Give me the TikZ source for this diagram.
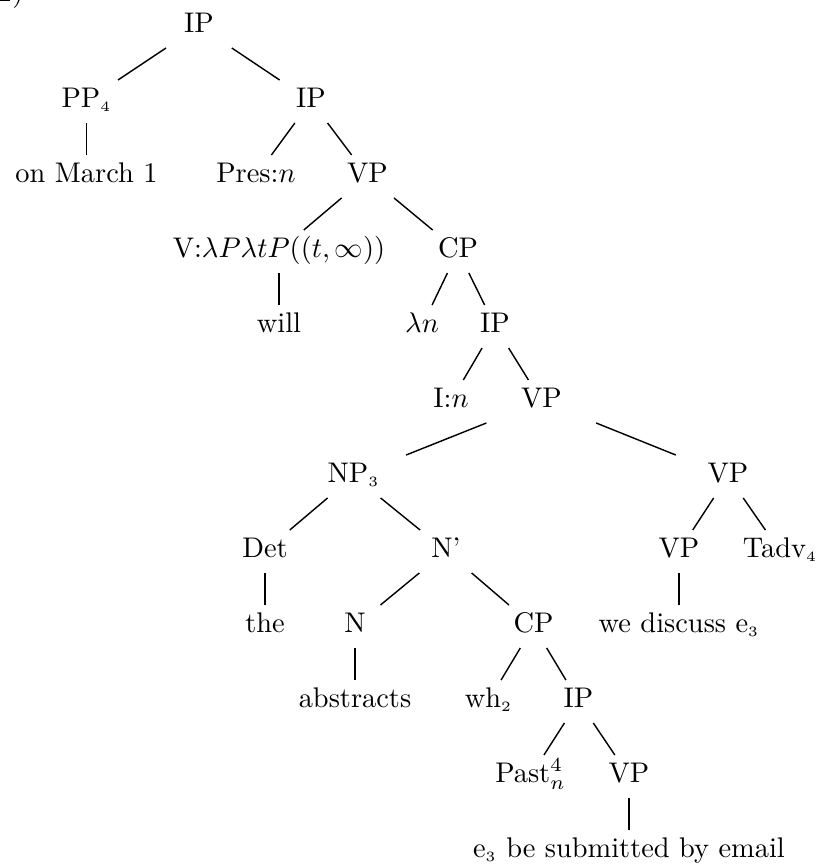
\documentclass[tikz,border=0pt]{standalone}
\usetikzlibrary{calc}
\newcommand\branch[2]{\draw[br] ($#1!0.293!#2+(0,-6)$) -- ($#1!0.72!#2+(0,-6)$);}
\newcommand\sub[1]{$_{\scriptscriptstyle #1}$}
\begin{document}
\begin{tikzpicture}[x=0.3521pt,y=-0.3521pt,
  lab/.style={anchor=base,inner sep=0pt},
  br/.style={line width=0.5pt}]
\useasboundingbox (0,0) rectangle (816,865);
\clip (0,0) rectangle (816,865);
\node[lab,anchor=base east] (num) at (24,1) {2)};
\node[lab] (IPa) at (199,32) {IP};
\node[lab] (PP) at (86.5,107) {PP\sub{4}};
\node[lab] (IPb) at (311,107) {IP};
\node[lab] (onm) at (86.5,182) {on March 1};
\node[lab] (Pres) at (256,182) {Pres:$n$};
\node[lab] (VPa) at (367.5,182) {VP};
\node[lab] (V) at (279,257) {V:$\lambda P\lambda tP((t,\infty))$};
\node[lab] (CPa) at (458,257) {CP};
\node[lab] (will) at (279,332) {will};
\node[lab] (lamn) at (422,332) {$\lambda n$};
\node[lab] (IPc) at (495,332) {IP};
\node[lab] (In) at (451,407) {I:$n$};
\node[lab] (VPb) at (541.5,407) {VP};
\node[lab] (NP) at (353.5,482) {NP\sub{3}};
\node[lab] (VPc) at (728,482) {VP};
\node[lab] (Det) at (265,557) {Det};
\node[lab] (Nbar) at (446,557) {N'};
\node[lab] (VPd) at (679,557) {VP};
\node[lab] (Tadv) at (780,557) {Tadv\sub{4}};
\node[lab] (the) at (265,632) {the};
\node[lab] (N) at (355,632) {N};
\node[lab] (CPb) at (533.5,632) {CP};
\node[lab] (wed) at (679,632) {we discuss e\sub{3}};
\node[lab] (abs) at (355,707) {abstracts};
\node[lab] (wh) at (488.5,707) {wh\sub{2}};
\node[lab] (IPd) at (578.5,707) {IP};
\node[lab] (Past) at (530.5,782) {Past$^4_n$};
\node[lab] (VPe) at (629,782) {VP};
\node[lab] (e3) at (629,857) {e\sub{3} be submitted by email};
\branch{(IPa.base)}{(PP.base)}
\branch{(IPa.base)}{(IPb.base)}
\branch{(PP.base)}{(onm.base)}
\branch{(IPb.base)}{(Pres.base)}
\branch{(IPb.base)}{(VPa.base)}
\branch{(VPa.base)}{(V.base)}
\branch{(VPa.base)}{(CPa.base)}
\branch{(V.base)}{(will.base)}
\branch{(CPa.base)}{(lamn.base)}
\branch{(CPa.base)}{(IPc.base)}
\branch{(IPc.base)}{(In.base)}
\branch{(IPc.base)}{(VPb.base)}
\branch{(VPb.base)}{(NP.base)}
\branch{(VPb.base)}{(VPc.base)}
\branch{(NP.base)}{(Det.base)}
\branch{(NP.base)}{(Nbar.base)}
\branch{(VPc.base)}{(VPd.base)}
\branch{(VPc.base)}{(Tadv.base)}
\branch{(Det.base)}{(the.base)}
\branch{(Nbar.base)}{(N.base)}
\branch{(Nbar.base)}{(CPb.base)}
\branch{(VPd.base)}{(wed.base)}
\branch{(N.base)}{(abs.base)}
\branch{(CPb.base)}{(wh.base)}
\branch{(CPb.base)}{(IPd.base)}
\branch{(IPd.base)}{(Past.base)}
\branch{(IPd.base)}{(VPe.base)}
\branch{(VPe.base)}{(e3.base)}
\end{tikzpicture}
\end{document}
